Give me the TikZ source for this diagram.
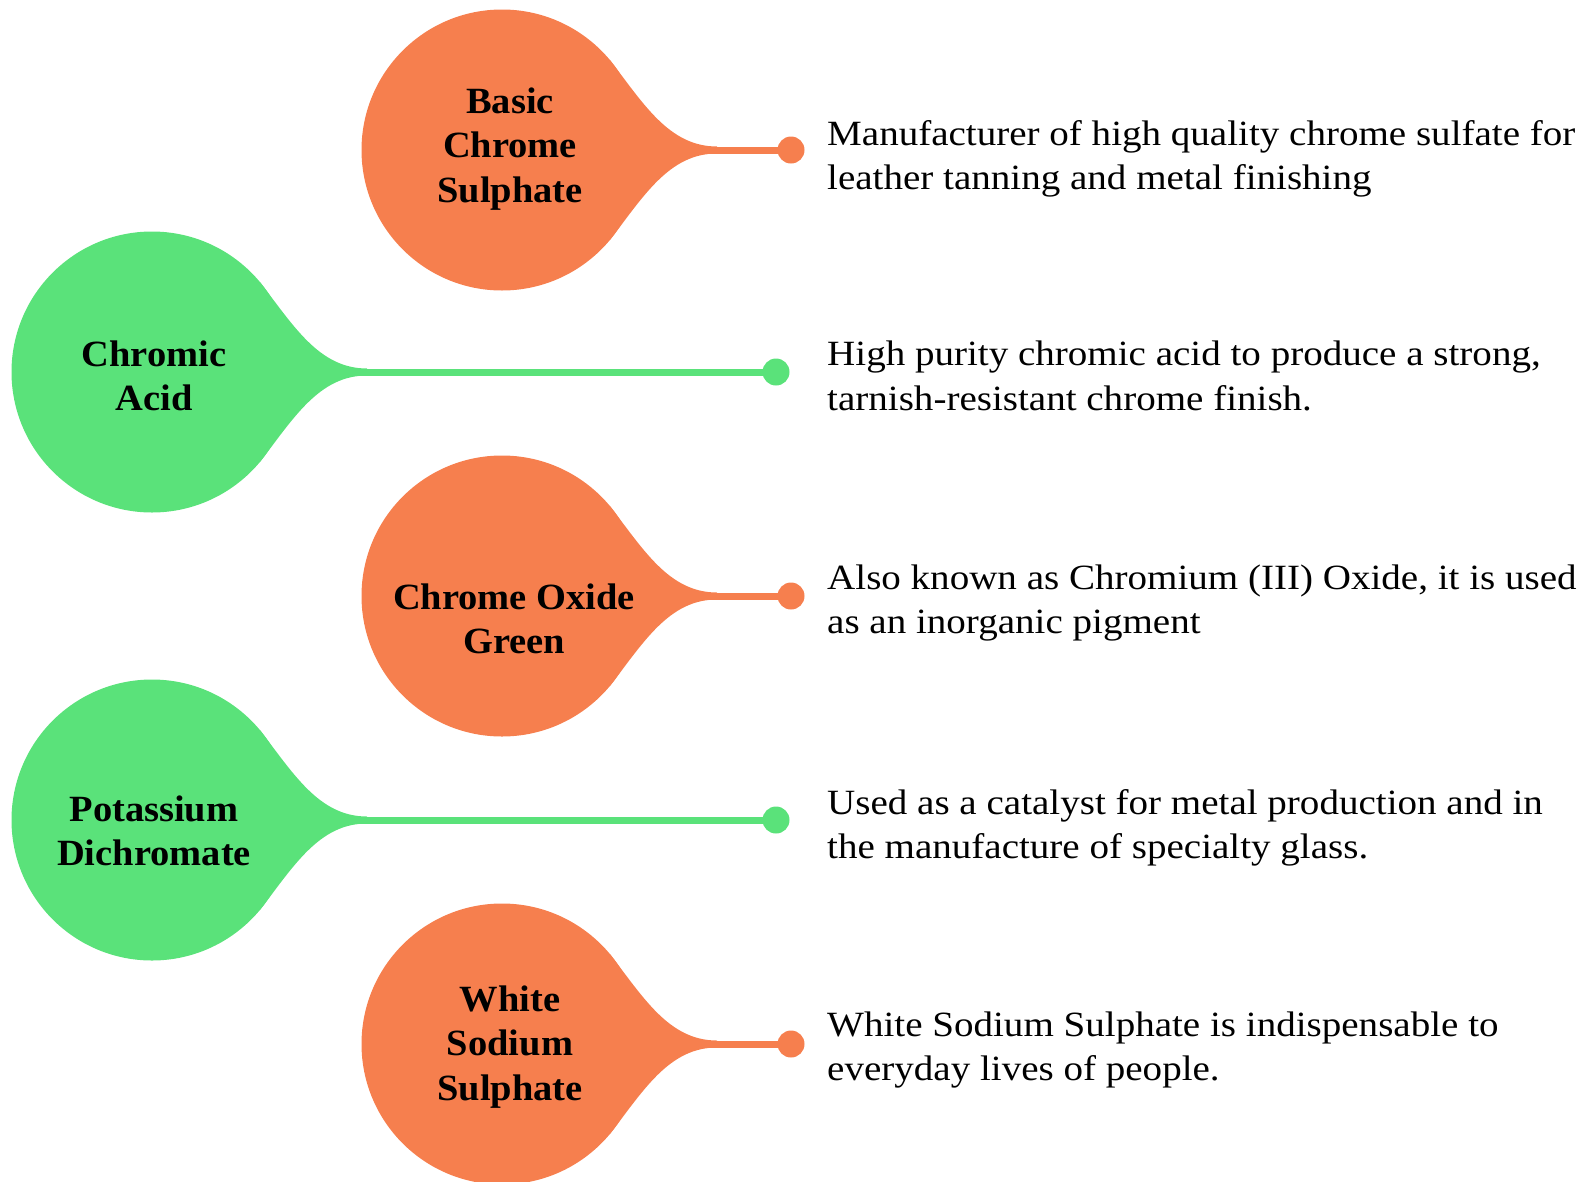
\documentclass[tikz,border=0pt]{standalone}
\usepackage{fontspec}
\setmainfont{Liberation Serif}
\newfontfamily\descfont[FakeStretch=1.1]{Liberation Serif}
\newfontfamily\titlefont[FakeStretch=1.04]{Liberation Serif}
\usetikzlibrary{calc}
\definecolor{orng}{HTML}{F67F4E}
\definecolor{grn}{HTML}{5AE27A}
\newcommand\myneck[2]{%
  \fill[#2] (#1.center) -- (#1.40) .. controls +(34,44) and +(-48,0) .. ($(#1.center)+(215,-3.5)$)
    -- ($(#1.center)+(215,3.5)$) .. controls +(-48,0) and +(34,-44) .. (#1.-40) -- cycle;}
\begin{document}
\begin{tikzpicture}[x=1pt,y=-1pt,
  bubble/.style={circle,minimum size=281pt,inner sep=0pt,outer sep=0pt,fill=#1},
  dotnode/.style={circle,minimum size=27pt,inner sep=0pt,outer sep=0pt,fill=#1},
  conn/.style={draw=#1,line width=7pt},
  title/.style={font=\titlefont\fontsize{37}{44.5}\selectfont\bfseries,align=center,inner sep=0pt},
  desc/.style={font=\descfont\fontsize{35.5}{44.5}\selectfont,align=left,anchor=west,inner sep=0pt}]
\useasboundingbox (0,0) rectangle (1587,1181);
% bubbles
\node[bubble=orng] (o1) at (502,150) {};
\node[bubble=grn]  (g1) at (152,372) {};
\node[bubble=orng] (o2) at (502,596) {};
\node[bubble=grn]  (g2) at (152,820) {};
\node[bubble=orng] (o3) at (502,1044) {};
% dots
\node[dotnode=orng] (d1) at (791,150) {};
\node[dotnode=grn]  (e1) at (776,372) {};
\node[dotnode=orng] (d2) at (791,596) {};
\node[dotnode=grn]  (e2) at (776,820) {};
\node[dotnode=orng] (d3) at (791,1044) {};
% necks
\myneck{o1}{orng}
\myneck{g1}{grn}
\myneck{o2}{orng}
\myneck{g2}{grn}
\myneck{o3}{orng}
% connectors
\draw[conn=orng] (o1) -- (d1);
\draw[conn=grn]  (g1) -- (e1);
\draw[conn=orng] (o2) -- (d2);
\draw[conn=grn]  (g2) -- (e2);
\draw[conn=orng] (o3) -- (d3);
% titles
\node[title] (t1) at (510,149) {Basic\\Chrome\\Sulphate};
\node[title] (t2) at (154,376) {Chromic\\Acid};
\node[title] (t3) at (514,619) {Chrome Oxide\\Green};
\node[title] (t4) at (154,831) {Potassium\\Dichromate};
\node[title] (t5) at (510,1047) {White\\Sodium\\Sulphate};
% descriptions
\node[desc] (s1) at (827,159) {Manufacturer of high quality chrome sulfate for\\leather tanning and metal finishing};
\node[desc] (s2) at (827,376) {High purity chromic acid to produce a strong,\\tarnish-resistant chrome finish.};
\node[desc] (s3) at (827,603) {Also known as Chromium (III) Oxide, it is used\\as an inorganic pigment};
\node[desc] (s4) at (827,828) {Used as a catalyst for metal production and in\\the manufacture of specialty glass.};
\node[desc] (s5) at (827,1050) {White Sodium Sulphate is indispensable to\\everyday lives of people.};
\end{tikzpicture}
\end{document}
